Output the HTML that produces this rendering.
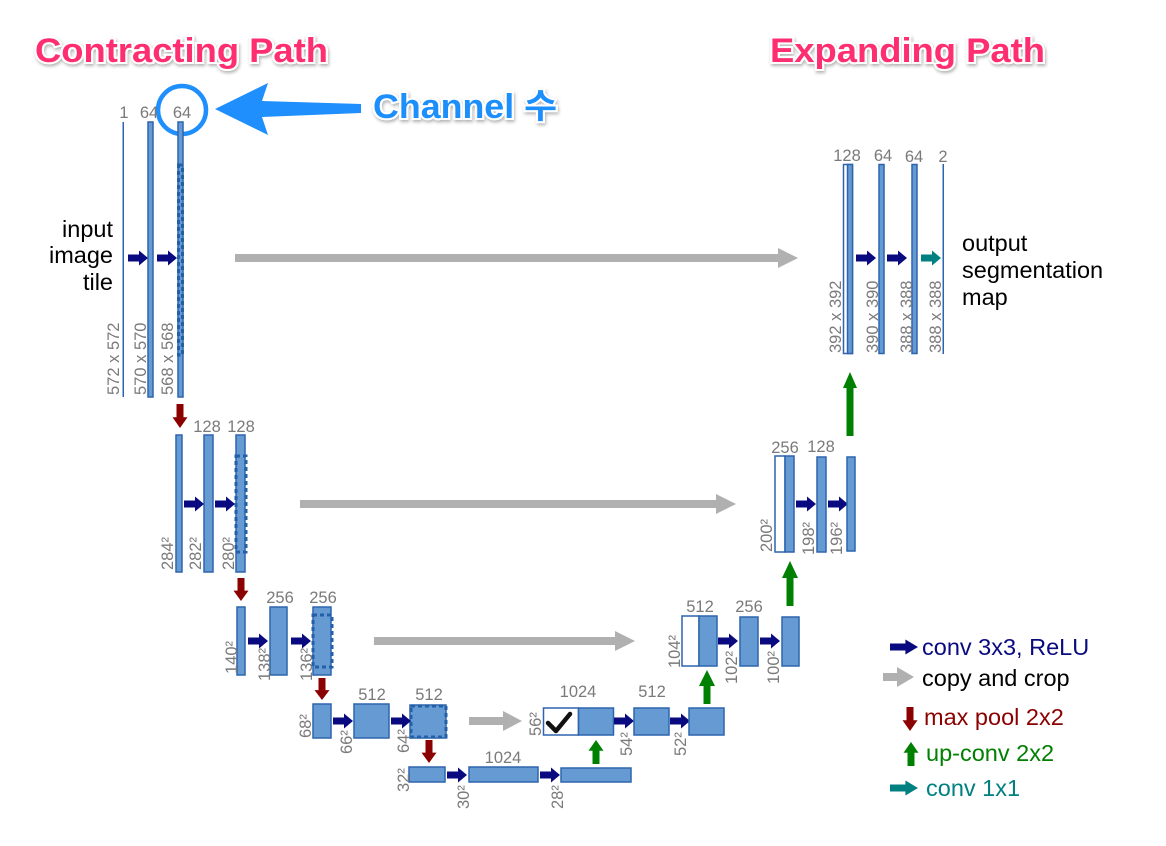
<!DOCTYPE html>
<html><head><meta charset="utf-8"><style>
html,body{margin:0;padding:0;background:#fff;}
svg{display:block;}
.l{font-family:"Liberation Sans",sans-serif;font-size:16.5px;fill:#7a7a7a;}
.t{font-family:"Liberation Sans",sans-serif;font-size:23.5px;}
.b{fill:#659ad2;stroke:#2e64ad;stroke-width:1.5;}
.w{fill:#fff;stroke:#2e64ad;stroke-width:1.5;}
.d{fill:none;stroke:#2460a8;stroke-width:3;stroke-dasharray:4,3;}
.big{font-family:"Liberation Sans","DejaVu Sans",sans-serif;font-weight:bold;font-size:34px;paint-order:stroke;stroke:#fff;stroke-width:4px;}
</style></head><body>
<svg width="1166" height="846" viewBox="0 0 1166 846" xmlns="http://www.w3.org/2000/svg">
<defs>
<path id="ar" d="M0,-3.5 H11 V-7.5 L20,0 L11,7.5 V3.5 H0Z"/>
<filter id="sh" x="-10%" y="-30%" width="120%" height="160%"><feDropShadow dx="1" dy="2" stdDeviation="1.5" flood-color="#000" flood-opacity="0.3"/></filter>
</defs>

<text x="35" y="62" class="big" fill="#ff2d6f" filter="url(#sh)" textLength="293" lengthAdjust="spacingAndGlyphs">Contracting Path</text>
<text x="770" y="62" class="big" fill="#ff2d6f" filter="url(#sh)" textLength="275" lengthAdjust="spacingAndGlyphs">Expanding Path</text>
<text x="373" y="118" class="big" fill="#1e8ffc" filter="url(#sh)" style="font-family:'Liberation Sans','Noto Sans CJK KR',sans-serif" textLength="184" lengthAdjust="spacingAndGlyphs">Channel 수</text>
<circle cx="182" cy="110" r="24" fill="none" stroke="#1e8ffc" stroke-width="4.5"/>
<path d="M215,109 L268,83 L262,101 L361,104 L361,113 L262,117 L268,135 Z" fill="#1e8ffc"/>

<!-- Level 1 left -->
<text class="l" x="124" y="118" text-anchor="middle">1</text>
<text class="l" x="149" y="118" text-anchor="middle">64</text>
<text class="l" x="182" y="118" text-anchor="middle">64</text>
<rect x="122.5" y="122" width="1.5" height="275" fill="#2e64ad"/>
<rect class="b" x="148" y="122" width="5" height="275"/>
<rect class="b" x="178" y="122" width="5" height="275"/>
<rect class="d" x="178.5" y="165" width="4" height="190"/>
<text class="t" x="113" y="237" text-anchor="end">input</text>
<text class="t" x="113" y="263" text-anchor="end">image</text>
<text class="t" x="113" y="290" text-anchor="end">tile</text>
<use href="#ar" transform="translate(128,258)" fill="#0a0a80"/>
<use href="#ar" transform="translate(157,258)" fill="#0a0a80"/>
<text class="l" transform="translate(119,395) rotate(-90)">572 x 572</text>
<text class="l" transform="translate(146,395) rotate(-90)">570 x 570</text>
<text class="l" transform="translate(173,395) rotate(-90)">568 x 568</text>
<rect x="235" y="254" width="545" height="8" fill="#b0b0b0"/><path d="M778,248 L798,258 L778,268Z" fill="#b0b0b0"/>
<use href="#ar" transform="translate(180,404) rotate(90) scale(1.2,1)" fill="#8b0000"/>

<!-- Level 2 -->
<text class="l" x="207" y="432" text-anchor="middle">128</text>
<text class="l" x="241" y="432" text-anchor="middle">128</text>
<rect class="b" x="176" y="435" width="6" height="137"/>
<rect class="b" x="204" y="435" width="9" height="137"/>
<rect class="b" x="236" y="435" width="9" height="137"/>
<rect class="d" x="236" y="456" width="10" height="96"/>
<use href="#ar" transform="translate(184,504)" fill="#0a0a80"/>
<use href="#ar" transform="translate(215,504)" fill="#0a0a80"/>
<text class="l" transform="translate(173,570) rotate(-90)">284²</text>
<text class="l" transform="translate(201,570) rotate(-90)">282²</text>
<text class="l" transform="translate(234,570) rotate(-90)">280²</text>
<rect x="300" y="500" width="418" height="8" fill="#b0b0b0"/><path d="M716,494 L736,504 L716,514Z" fill="#b0b0b0"/>
<use href="#ar" transform="translate(241,578) rotate(90) scale(1.15,1)" fill="#8b0000"/>

<!-- Level 3 -->
<text class="l" x="280" y="603" text-anchor="middle">256</text>
<text class="l" x="323" y="603" text-anchor="middle">256</text>
<rect class="b" x="237" y="607" width="8" height="68"/>
<rect class="b" x="270" y="607" width="17" height="68"/>
<rect class="b" x="313" y="607" width="18" height="68"/>
<rect class="d" x="313" y="615" width="19" height="52"/>
<use href="#ar" transform="translate(248,641)" fill="#0a0a80"/>
<use href="#ar" transform="translate(291,641)" fill="#0a0a80"/>
<text class="l" transform="translate(237,674) rotate(-90)">140²</text>
<text class="l" transform="translate(270,681) rotate(-90)">138²</text>
<text class="l" transform="translate(312,681) rotate(-90)">136²</text>
<rect x="374" y="637" width="243" height="8" fill="#b0b0b0"/><path d="M615,631 L635,641 L615,651Z" fill="#b0b0b0"/>
<use href="#ar" transform="translate(322,678) rotate(90) scale(1.1,1)" fill="#8b0000"/>

<!-- Level 4 left -->
<text class="l" x="372" y="700" text-anchor="middle">512</text>
<text class="l" x="429" y="700" text-anchor="middle">512</text>
<rect class="b" x="313" y="704" width="18" height="34"/>
<rect class="b" x="354" y="704" width="35" height="34"/>
<rect class="b" x="410" y="705" width="36" height="33"/>
<rect class="d" x="411" y="706" width="35" height="31"/>
<use href="#ar" transform="translate(333,721)" fill="#0a0a80"/>
<use href="#ar" transform="translate(391,721)" fill="#0a0a80"/>
<text class="l" transform="translate(311,738) rotate(-90)">68²</text>
<text class="l" transform="translate(352,754) rotate(-90)">66²</text>
<text class="l" transform="translate(409,753) rotate(-90)">64²</text>
<rect x="469" y="717" width="36" height="8" fill="#b0b0b0"/><path d="M503,711 L522,721 L503,731Z" fill="#b0b0b0"/>
<use href="#ar" transform="translate(429,740) rotate(90) scale(1.15,1)" fill="#8b0000"/>

<!-- Level 5 -->
<text class="l" x="503" y="763" text-anchor="middle">1024</text>
<rect class="b" x="409" y="767" width="36" height="15"/>
<rect class="b" x="469" y="767" width="69" height="15"/>
<rect class="b" x="561" y="768" width="70" height="14"/>
<use href="#ar" transform="translate(447,775)" fill="#0a0a80"/>
<use href="#ar" transform="translate(540,775)" fill="#0a0a80"/>
<text class="l" transform="translate(409,792) rotate(-90)">32²</text>
<text class="l" transform="translate(469,809) rotate(-90)">30²</text>
<text class="l" transform="translate(563,809) rotate(-90)">28²</text>
<use href="#ar" transform="translate(596,764) rotate(-90) scale(1.2,1)" fill="#008000"/>

<!-- Level 4 right -->
<text class="l" x="578" y="697" text-anchor="middle">1024</text>
<rect class="w" x="543.5" y="708" width="35" height="27"/>
<rect class="b" x="578.5" y="708" width="35" height="27"/>
<path d="M548,723 L556,731 L570,714" fill="none" stroke="#111" stroke-width="4.5" stroke-linecap="round" stroke-linejoin="round"/>
<text class="l" transform="translate(541,736) rotate(-90)">56²</text>
<use href="#ar" transform="translate(614,721)" fill="#0a0a80"/>
<text class="l" x="652" y="697" text-anchor="middle">512</text>
<rect class="b" x="634" y="708" width="35" height="27"/>
<use href="#ar" transform="translate(670,721)" fill="#0a0a80"/>
<rect class="b" x="689" y="708" width="35" height="27"/>
<text class="l" transform="translate(632,756) rotate(-90)">54²</text>
<text class="l" transform="translate(686,756) rotate(-90)">52²</text>
<rect x="703.5" y="684" width="7" height="20" fill="#008000"/><path d="M699,686 L707,670 L715,686Z" fill="#008000"/>

<!-- Level 3 right -->
<text class="l" x="700" y="612" text-anchor="middle">512</text>
<rect class="w" x="682" y="616" width="17" height="50"/>
<rect class="b" x="699" y="616" width="18" height="50"/>
<use href="#ar" transform="translate(718,641)" fill="#0a0a80"/>
<text class="l" x="749" y="612" text-anchor="middle">256</text>
<rect class="b" x="740" y="617" width="18" height="49"/>
<use href="#ar" transform="translate(760,641)" fill="#0a0a80"/>
<rect class="b" x="782" y="617" width="17" height="49"/>
<text class="l" transform="translate(680,668) rotate(-90)">104²</text>
<text class="l" transform="translate(737,684) rotate(-90)">102²</text>
<text class="l" transform="translate(779,684) rotate(-90)">100²</text>
<rect x="786.5" y="576" width="7" height="30" fill="#008000"/><path d="M782,578 L790,561 L798,578Z" fill="#008000"/>

<!-- Level 2 right -->
<text class="l" x="785" y="453" text-anchor="middle">256</text>
<text class="l" x="821" y="452" text-anchor="middle">128</text>
<rect class="w" x="775" y="456" width="10" height="96"/>
<rect class="b" x="785" y="456" width="9" height="96"/>
<use href="#ar" transform="translate(796,504)" fill="#0a0a80"/>
<rect class="b" x="817" y="457" width="9" height="95"/>
<use href="#ar" transform="translate(828,504)" fill="#0a0a80"/>
<rect class="b" x="847" y="457" width="8" height="94"/>
<text class="l" transform="translate(772,552) rotate(-90)">200²</text>
<text class="l" transform="translate(814,555) rotate(-90)">198²</text>
<text class="l" transform="translate(842,555) rotate(-90)">196²</text>
<rect x="846.5" y="386" width="7" height="50" fill="#008000"/><path d="M843,388 L850,372 L857,388Z" fill="#008000"/>

<!-- Level 1 right -->
<text class="l" x="847" y="161" text-anchor="middle">128</text>
<text class="l" x="883" y="161" text-anchor="middle">64</text>
<text class="l" x="914" y="162" text-anchor="middle">64</text>
<text class="l" x="943" y="162" text-anchor="middle">2</text>
<rect class="w" x="843.5" y="164.5" width="9" height="189"/>
<rect class="b" x="847.5" y="164.5" width="5" height="189"/>
<rect class="b" x="879" y="164.5" width="5" height="189"/>
<rect class="b" x="912" y="164.5" width="5" height="189"/>
<rect x="942.5" y="164" width="1.5" height="190" fill="#2e64ad"/>
<use href="#ar" transform="translate(856,258)" fill="#0a0a80"/>
<use href="#ar" transform="translate(887,258)" fill="#0a0a80"/>
<use href="#ar" transform="translate(921,258)" fill="#008080"/>
<text class="l" transform="translate(841,353) rotate(-90)">392 x 392</text>
<text class="l" transform="translate(878,353) rotate(-90)">390 x 390</text>
<text class="l" transform="translate(912,353) rotate(-90)">388 x 388</text>
<text class="l" transform="translate(941,353) rotate(-90)">388 x 388</text>
<text class="t" x="962" y="251">output</text>
<text class="t" x="962" y="278">segmentation</text>
<text class="t" x="962" y="305">map</text>

<!-- Legend -->
<use href="#ar" transform="translate(890,647) scale(1.4,1)" fill="#0a0a80"/>
<text class="t" x="922" y="655" fill="#0a0a80">conv 3x3, ReLU</text>
<rect x="883" y="673" width="16" height="8" fill="#b0b0b0"/><path d="M897,667 L914,677 L897,687Z" fill="#b0b0b0"/>
<text class="t" x="922" y="686" fill="#000">copy and crop</text>
<use href="#ar" transform="translate(910,707) rotate(90) scale(1.2,1)" fill="#8b0000"/>
<text class="t" x="924" y="725" fill="#8b0000">max pool 2x2</text>
<use href="#ar" transform="translate(911,766) rotate(-90) scale(1.2,1)" fill="#008000"/>
<text class="t" x="926" y="761" fill="#008000">up-conv 2x2</text>
<use href="#ar" transform="translate(890,788) scale(1.4,1)" fill="#008080"/>
<text class="t" x="926" y="796" fill="#008080">conv 1x1</text>
</svg>
</body></html>
